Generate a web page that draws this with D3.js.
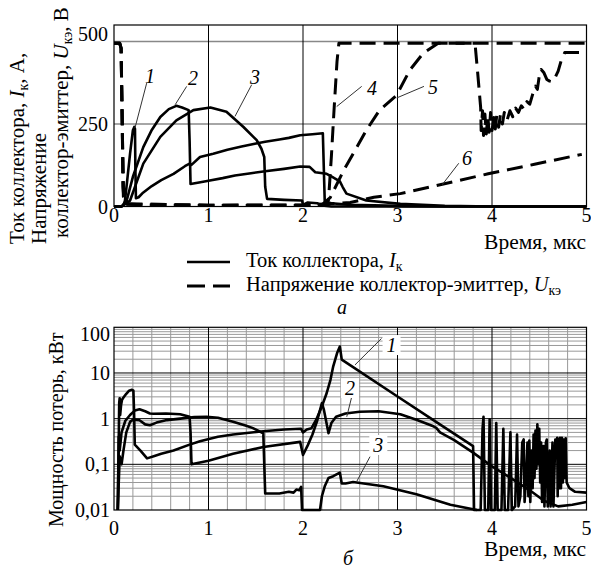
<!DOCTYPE html>
<html lang="ru">
<head>
<meta charset="UTF-8">
<title>Ток, напряжение и мощность потерь</title>
<style>
  body { margin: 0; background: #fff; }
  svg { display: block; }
  text { font-family: "Liberation Serif", "Times New Roman", "DejaVu Serif", serif; fill: #000; }
  .grid-minor { stroke: #999; stroke-width: 1; }
  .grid-major { stroke: #000; stroke-width: 1; }
  .grid-gray { stroke: #888; stroke-width: 1.3; }
  .frame { fill: none; stroke: #000; stroke-width: 1.2; }
  .curve { fill: none; stroke: #000; stroke-width: 2.6; stroke-linejoin: round; }
  .dashed { stroke-dasharray: 16 8; stroke-width: 3; }
  .tick { font-size: 20px; }
  .title { font-size: 21.5px; }
  .legend-text { font-size: 20.5px; }
  .ytitle { font-size: 21px; }
  .leader { stroke: #333; stroke-width: 1; }
  .num { font-size: 20px; font-style: italic; }
</style>
</head>
<body>
<script src="https://d3js.org/d3.v7.min.js"></script>
<script>
  // --- данные: [время, мкс; значение] ---
  const timeTicks = [0, 1, 2, 3, 4, 5];
  const topTicks = [0, 250, 500];
  const powerTicks = [0.01, 0.1, 1, 10, 100];
  const powerTickLabels = ["0,01", "0,1", "1", "10", "100"];

  // токи коллектора, А
  const i1 = [[0,0],[0.08,0],[0.1,5],[0.116,18],[0.14,80],[0.17,160],[0.2,231],[0.215,241],[0.222,235],[0.226,120],[0.232,25],[0.26,28],[0.3,40],[0.4,62],[0.5,80],[0.63,99],[0.75,122],[0.8,130],[0.82,126],[0.91,150],[1.05,160],[1.2,172],[1.35,182],[1.49,190],[1.6,196],[1.75,203],[1.85,208],[1.97,216],[2.1,219],[2.21,222],[2.23,15],[2.3,10],[2.5,5],[3.0,2],[3.5,0],[5,0]];
  const i2 = [[0,0],[0.08,0],[0.134,18],[0.2,90],[0.31,180],[0.4,232],[0.49,271],[0.58,295],[0.66,305],[0.72,300],[0.79,292],[0.8,200],[0.81,68],[0.9,73],[1.0,78],[1.15,86],[1.28,94],[1.45,101],[1.6,107],[1.8,114],[1.97,121],[2.07,120],[2.13,104],[2.25,99],[2.3,91],[2.39,76],[2.42,59],[2.46,39],[2.67,18],[3.03,8],[3.5,2],[4,0],[5,0]];
  const i3 = [[0,0],[0.08,0],[0.17,18],[0.31,130],[0.49,211],[0.66,261],[0.84,292],[1.02,300],[1.19,287],[1.37,241],[1.51,201],[1.56,175],[1.59,150],[1.6,60],[1.62,23],[1.8,20],[1.99,18],[2.0,5],[2.05,12],[2.15,10],[2.2,3],[2.3,0],[5,0]];

  // напряжения коллектор-эмиттер, В
  const u4 = [[0,495],[0.06,495],[0.075,480],[0.085,300],[0.095,60],[0.11,8],[0.3,5],[1,3],[2,3],[2.25,5],[2.27,20],[2.3,150],[2.33,300],[2.36,440],[2.38,495],[3.82,495],[3.85,400],[3.88,300],[3.885,230],[3.9,290],[3.91,215],[3.925,280],[3.94,220],[3.955,275],[3.97,225],[3.985,285],[4.0,230],[4.02,270],[4.035,235],[4.05,275],[4.07,240],[4.09,280],[4.11,250],[4.13,285],[4.16,262],[4.19,290],[4.22,272],[4.25,298],[4.28,285],[4.31,305],[4.34,295],[4.37,318],[4.4,310],[4.43,340],[4.46,365],[4.48,355],[4.5,395],[4.52,415],[4.55,405],[4.58,385],[4.61,380],[4.64,378],[4.67,392],[4.7,410],[4.73,440],[4.75,450],[4.77,467],[5,467]];
  const u5 = [[0,495],[0.06,495],[0.075,480],[0.09,200],[0.1,30],[0.12,8],[1,4],[2.2,5],[2.29,28],[2.43,109],[2.55,170],[2.67,231],[2.81,292],[2.99,337],[3.13,413],[3.27,464],[3.43,495],[5,495]];
  const u6 = [[0,495],[0.06,495],[0.075,480],[0.09,200],[0.1,30],[0.12,8],[1,4],[2,4],[2.5,12],[2.75,28],[3.03,39],[3.45,66],[3.96,99],[4.45,128],[4.95,158]];

  // мощность потерь, кВт
  const p1 = [[0.04,0.01],[0.05,0.3],[0.055,2.2],[0.06,2.8],[0.065,1.2],[0.075,2.0],[0.085,2.6],[0.1,2.9],[0.13,3.5],[0.16,4.1],[0.19,4.3],[0.205,4.1],[0.212,1.5],[0.22,0.27],[0.28,0.2],[0.35,0.135],[0.42,0.15],[0.5,0.17],[0.63,0.2],[0.8,0.27],[0.91,0.32],[1.1,0.4],[1.26,0.45],[1.58,0.53],[1.8,0.58],[1.98,0.6],[2.0,0.5],[2.04,0.58],[2.09,0.62],[2.14,0.95],[2.2,1.86],[2.25,3.6],[2.29,7],[2.32,14],[2.36,27],[2.39,38],[2.41,19.6],[3.0,3.05],[3.4,0.87],[3.8,0.25],[3.81,0.01],[3.88,0.01],[3.9,0.6],[3.91,1.1],[3.925,0.01],[3.96,0.01],[3.975,0.97],[3.99,0.01],[4.03,0.01],[4.045,0.8],[4.06,0.01],[4.1,0.01],[4.12,0.6],[4.135,0.01],[4.17,0.01],[4.195,0.5],[4.21,0.01],[4.245,0.012],[4.265,0.45],[4.28,0.012],[4.3,0.02],[4.32,0.3],[4.335,0.35],[4.345,0.015],[4.36,0.05],[4.375,0.3],[4.385,0.02],[4.395,0.33],[4.405,0.015],[4.42,0.2],[4.43,0.03],[4.44,0.45],[4.45,0.05],[4.46,0.55],[4.47,0.08],[4.48,0.75],[4.49,0.1],[4.5,0.6],[4.51,0.04],[4.52,0.3],[4.53,0.015],[4.545,0.25],[4.555,0.012],[4.57,0.3],[4.58,0.35],[4.59,0.012],[4.61,0.2],[4.62,0.012],[4.64,0.3],[4.65,0.012],[4.67,0.35],[4.68,0.15],[4.69,0.38],[4.695,0.02],[4.7,0.36],[4.71,0.03],[4.72,0.38],[4.73,0.03],[4.74,0.38],[4.75,0.04],[4.76,0.35],[4.77,0.05],[4.78,0.37],[4.79,0.04],[4.82,0.03],[4.88,0.025],[5,0.024]];
  const p2 = [[0.04,0.01],[0.05,0.4],[0.06,0.2],[0.08,0.5],[0.12,0.9],[0.17,1.2],[0.22,1.5],[0.27,1.6],[0.33,1.45],[0.38,1.3],[0.42,1.28],[0.55,1.3],[0.7,1.25],[0.8,1.1],[0.81,0.5],[0.82,0.1],[1.0,0.12],[1.26,0.17],[1.58,0.24],[1.97,0.31],[2.0,0.16],[2.05,0.26],[2.1,0.45],[2.15,0.9],[2.2,2.2],[2.22,1.6],[2.27,0.48],[2.3,0.8],[2.35,1.1],[2.45,1.3],[2.6,1.42],[2.8,1.45],[3.03,1.25],[3.2,0.95],[3.38,0.68],[3.41,0.63],[3.45,0.5],[3.6,0.34],[3.8,0.18],[4.0,0.09],[4.2,0.05],[4.4,0.027],[4.55,0.016],[4.7,0.012],[4.85,0.013],[5,0.015]];
  const p3 = [[0.04,0.01],[0.06,0.15],[0.08,0.1],[0.1,0.2],[0.13,0.5],[0.17,0.85],[0.2,0.95],[0.27,0.92],[0.33,0.75],[0.38,0.72],[0.45,0.82],[0.56,0.93],[0.7,1.0],[0.85,1.08],[0.98,1.1],[1.1,1.05],[1.26,0.86],[1.4,0.7],[1.47,0.62],[1.58,0.48],[1.59,0.1],[1.6,0.023],[1.75,0.023],[1.85,0.025],[1.9,0.024],[1.93,0.028],[1.96,0.027],[1.98,0.032],[1.99,0.01],[2.18,0.01],[2.2,0.02],[2.23,0.033],[2.27,0.05],[2.32,0.055],[2.39,0.066],[2.41,0.038],[2.45,0.038],[2.53,0.041],[2.85,0.033],[3.2,0.022],[3.56,0.013],[3.84,0.01]];

  // подписи кривых: [текст, t, значение, t1, v1, t2, v2]
  const topNotes = [
    ["1", 0.381, 394, 0.346, 374, 0.222, 238],
    ["2", 0.836, 390, 0.769, 364, 0.646, 308],
    ["3", 1.492, 393, 1.457, 369, 1.28, 273],
    ["4", 2.73, 360, 2.621, 364, 2.357, 303],
    ["5", 3.376, 363, 3.28, 364, 2.992, 329],
    ["6", 3.735, 147, 3.648, 131, 3.473, 66]
  ];
  const bottomNotes = [
    ["1", 2.937, 40.9, 2.831, 57, 2.55, 15],
    ["2", 2.497, 4.69, 2.516, 3.03, 2.463, 1.1],
    ["3", 2.797, 0.265, 2.709, 0.147, 2.568, 0.042]
  ];

  const width = 591, height = 571;
  const svg = d3.select("body").append("svg").attr("width", width).attr("height", height);

  const x = d3.scaleLinear().domain([0, 5]).range([114, 586.5]);
  const yTop = d3.scaleLinear().domain([0, 550]).range([206.5, 25]);
  const yBot = d3.scaleLog().domain([0.01, 100]).range([510, 327.3]);

  // ---------- верхний график ----------
  const gTop = svg.append("g");
  gTop.selectAll(".h").data([250, 500]).enter().append("line")
    .attr("class", "grid-gray")
    .attr("x1", x(0)).attr("x2", x(5)).attr("y1", d => yTop(d)).attr("y2", d => yTop(d));
  gTop.selectAll(".v").data([1, 2, 3, 4]).enter().append("line")
    .attr("class", "grid-major")
    .attr("x1", d => x(d)).attr("x2", d => x(d)).attr("y1", yTop(550)).attr("y2", yTop(0));
  gTop.append("rect").attr("class", "frame")
    .attr("x", x(0)).attr("y", yTop(550)).attr("width", x(5) - x(0)).attr("height", yTop(0) - yTop(550));

  const lineTop = d3.line().x(d => x(d[0])).y(d => yTop(d[1]));
  [u6, u5, u4].forEach(s => gTop.append("path").attr("class", "curve dashed").attr("d", lineTop(s)));
  [i3, i2, i1].forEach(s => gTop.append("path").attr("class", "curve").attr("d", lineTop(s)));

  gTop.selectAll(".yt").data(topTicks).enter().append("text")
    .attr("class", "tick").attr("text-anchor", "end")
    .attr("x", 108).attr("y", d => yTop(d) + (d === 500 ? -8 : 0)).attr("dy", "0.35em")
    .text(d => d);
  gTop.selectAll(".xt").data(timeTicks).enter().append("text")
    .attr("class", "tick").attr("text-anchor", "middle")
    .attr("x", d => x(d)).attr("y", 222).text(d => d);
  gTop.append("text").attr("class", "title").attr("text-anchor", "end")
    .attr("x", 586).attr("y", 249).text("Время, мкс");

  const notesTop = gTop.selectAll(".note").data(topNotes).enter().append("g");
  notesTop.append("line").attr("class", "leader")
    .attr("x1", d => x(d[3])).attr("y1", d => yTop(d[4]))
    .attr("x2", d => x(d[5])).attr("y2", d => yTop(d[6]));
  notesTop.append("text").attr("class", "num").attr("text-anchor", "middle")
    .attr("x", d => x(d[1])).attr("y", d => yTop(d[2])).attr("dy", "0.35em")
    .text(d => d[0]);

  // подпись оси Y (три строки, повернуто)
  function subText(t, parts) {
    parts.forEach(p => {
      const s = t.append("tspan").text(p[0]);
      if (p[1] === "i") s.attr("font-style", "italic");
      if (p[1] === "sub") s.attr("font-size", "14px").attr("dy", 4);
      if (p[1] === "back") s.attr("dy", -4);
    });
  }
  const yt1 = svg.append("text").attr("class", "ytitle").attr("transform", "translate(24,244) rotate(-90)");
  subText(yt1, [["Ток коллектора, "], ["I", "i"], ["к", "sub"], [", А,", "back"]]);
  svg.append("text").attr("class", "ytitle").attr("transform", "translate(46,244) rotate(-90)").text("Напряжение");
  const yt3 = svg.append("text").attr("class", "ytitle").attr("transform", "translate(68,238) rotate(-90)");
  subText(yt3, [["коллектор-эмиттер, "], ["U", "i"], ["кэ", "sub"], [", В", "back"]]);

  // легенда
  const legend = [["solid", 262, [["Ток коллектора, "], ["I", "i"], ["к", "sub"]]],
                  ["dashed", 286, [["Напряжение коллектор-эмиттер, "], ["U", "i"], ["кэ", "sub"]]]];
  legend.forEach(([kind, ly, parts]) => {
    svg.append("line").attr("class", kind === "dashed" ? "curve dashed" : "curve")
      .attr("x1", 187).attr("x2", 230).attr("y1", ly).attr("y2", ly)
      .style("stroke-dasharray", kind === "dashed" ? "18 8" : null);
    subText(svg.append("text").attr("class", "legend-text").attr("x", 246).attr("y", ly + 5), parts);
  });
  svg.append("text").attr("class", "num").attr("text-anchor", "middle").attr("x", 342).attr("y", 314).text("а");

  // ---------- нижний график ----------
  const gBot = svg.append("g");
  const minorX = d3.range(0.2, 5, 0.2).filter(d => Math.abs(d - Math.round(d)) > 0.01);
  const minorY = [];
  [0.01, 0.1, 1, 10].forEach(dec => d3.range(2, 10).forEach(k => minorY.push(dec * k)));
  gBot.selectAll(".mx").data(minorX).enter().append("line").attr("class", "grid-minor")
    .attr("x1", d => x(d)).attr("x2", d => x(d)).attr("y1", yBot(100)).attr("y2", yBot(0.01));
  gBot.selectAll(".my").data(minorY).enter().append("line").attr("class", "grid-minor")
    .attr("x1", x(0)).attr("x2", x(5)).attr("y1", d => yBot(d)).attr("y2", d => yBot(d));
  gBot.selectAll(".Mx").data([1, 2, 3, 4]).enter().append("line").attr("class", "grid-major")
    .attr("x1", d => x(d)).attr("x2", d => x(d)).attr("y1", yBot(100)).attr("y2", yBot(0.01));
  gBot.selectAll(".My").data([0.1, 1, 10]).enter().append("line").attr("class", "grid-major")
    .attr("x1", x(0)).attr("x2", x(5)).attr("y1", d => yBot(d)).attr("y2", d => yBot(d));
  gBot.append("rect").attr("class", "frame")
    .attr("x", x(0)).attr("y", yBot(100)).attr("width", x(5) - x(0)).attr("height", yBot(0.01) - yBot(100));

  const lineBot = d3.line().x(d => x(d[0])).y(d => yBot(d[1]));
  [p3, p2, p1].forEach(s => gBot.append("path").attr("class", "curve").attr("d", lineBot(s)));

  gBot.selectAll(".yt").data(powerTicks).enter().append("text")
    .attr("class", "tick").attr("text-anchor", "end")
    .attr("x", 110).attr("y", d => yBot(d) + (d === 100 ? 7 : 0)).attr("dy", "0.35em")
    .text((d, i) => powerTickLabels[i]);
  gBot.selectAll(".xt").data(timeTicks).enter().append("text")
    .attr("class", "tick").attr("text-anchor", "middle")
    .attr("x", d => x(d)).attr("y", 535).text(d => d);
  gBot.append("text").attr("class", "title").attr("text-anchor", "end")
    .attr("x", 586).attr("y", 556).text("Время, мкс");
  svg.append("text").attr("class", "tick").attr("transform", "translate(63,527) rotate(-90)")
    .text("Мощность потерь, кВт");

  const notesBot = gBot.selectAll(".note").data(bottomNotes).enter().append("g");
  notesBot.append("line").attr("class", "leader")
    .attr("x1", d => x(d[3])).attr("y1", d => yBot(d[4]))
    .attr("x2", d => x(d[5])).attr("y2", d => yBot(d[6]));
  notesBot.append("rect").attr("fill", "#fff")
    .attr("x", d => x(d[1]) - 9).attr("y", d => yBot(d[2]) - 10).attr("width", 18).attr("height", 20);
  notesBot.append("text").attr("class", "num").attr("text-anchor", "middle")
    .attr("x", d => x(d[1])).attr("y", d => yBot(d[2])).attr("dy", "0.35em")
    .text(d => d[0]);
  svg.append("text").attr("class", "num").attr("text-anchor", "middle").attr("x", 348).attr("y", 565).text("б");
</script>
</body>
</html>
